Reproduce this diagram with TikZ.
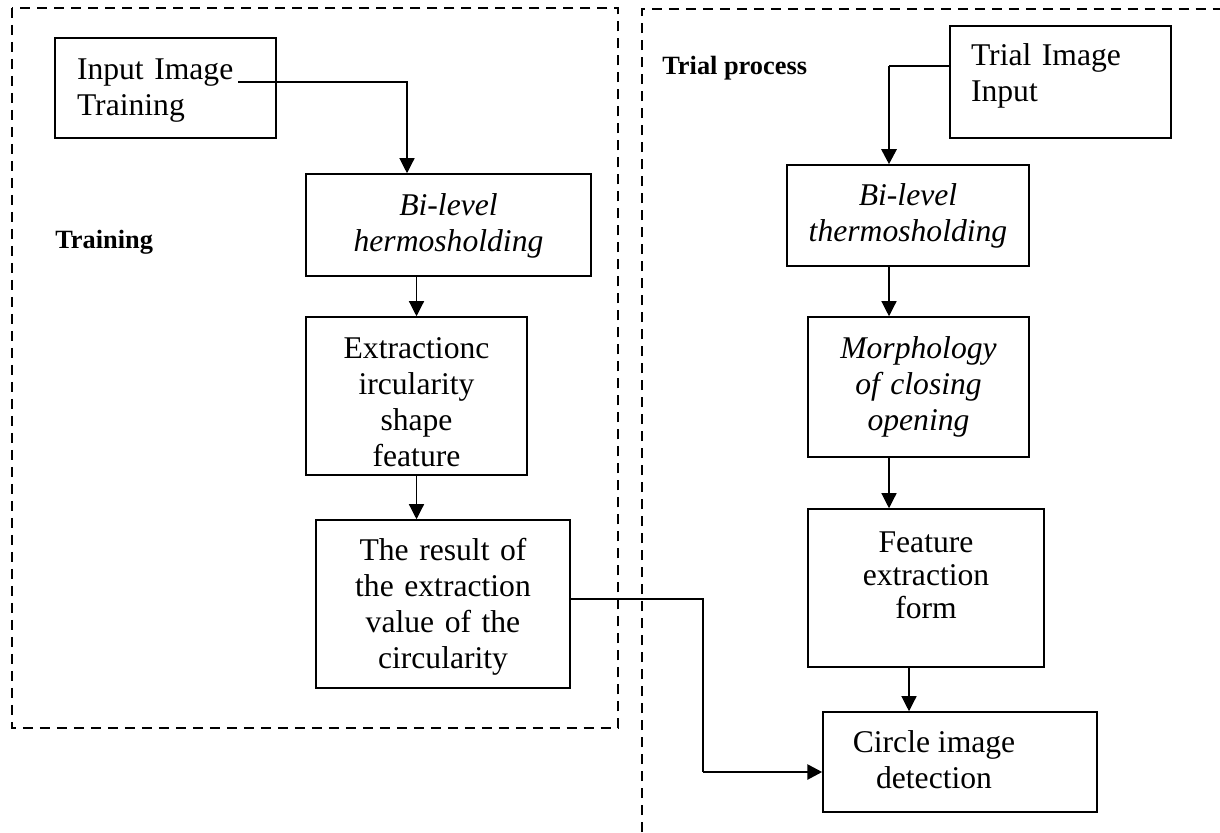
\documentclass[tikz,border=0pt]{standalone}
\usepackage{fontspec}
\setmainfont{Liberation Serif}
\usetikzlibrary{arrows.meta}

\begin{document}
\begin{tikzpicture}[x=0.02cm,y=-0.02cm,
		box/.style={draw,line width=0.9pt,inner sep=0pt,align=center,font=\fontsize{18}{20.6}\selectfont},
		ibox/.style={box,font=\fontsize{18}{20.6}\selectfont\itshape},
		grp/.style={line width=0.8pt,dash pattern=on 0.2cm off 0.14cm},
		lab/.style={anchor=base west,inner sep=0pt,font=\fontsize{15}{18}\selectfont\bfseries},
		conn/.style={line width=0.7pt},
		thk/.style={line width=1.6pt},
		>={Triangle[length=0.3cm,width=0.3cm]}]
		\useasboundingbox (0,0) rectangle (1220,832);
		%
		\draw[grp] (12,8) rectangle (618,728);
		\draw[grp] (642,832) |- (1220,9);
		\node[lab] (training) at (55,248) {Training};
		\node[lab] (trial) at (662,74) {Trial process};
		%
		\node[box,align=left,inner xsep=0.44cm,text width=3.54cm,text height=0.82cm,text depth=1.18cm] (intrain) at (165.5,88) {Input Image\\Training};
		\node[ibox,text width=5.70cm,text height=0.82cm,text depth=1.22cm] (bitrain) at (448.5,225) {Bi-level\\hermosholding};
		\node[box,text width=4.42cm,text height=0.82cm,text depth=2.34cm] (extrain) at (416.5,396) {Extractionc\\ircularity\\shape\\feature};
		\node[box,text width=5.08cm,text height=0.80cm,text depth=2.56cm] (restrain) at (443,604) {The result of\\the extraction\\value of the\\circularity};
		%
		\node[box,align=left,inner xsep=0.42cm,text width=3.58cm,text height=0.78cm,text depth=1.46cm] (intrial) at (1060.5,82) {Trial Image\\Input};
		\node[ibox,text width=4.84cm,text height=0.80cm,text depth=1.22cm] (bitrial) at (908,215.5) {Bi-level\\thermosholding};
		\node[ibox,text width=4.42cm,text height=0.82cm,text depth=1.98cm] (morph) at (918.5,387) {Morphology\\of closing\\opening};
		\node[box,font=\fontsize{18}{18.8}\selectfont,text width=4.72cm,text height=0.86cm,text depth=2.30cm] (featrial) at (926,588) {Feature\\extraction\\form};
		\node[box,minimum width=5.48cm,text height=0.80cm,text depth=1.20cm] (circle) at (960,762) {\begin{tabular}[t]{@{}c@{}}Circle image\\detection\end{tabular}\hspace{1.04cm}};
		%
		\coordinate (instart) at (238,82);
		\draw[conn,->] (instart) -| ([xshift=-0.83cm]bitrain.north);
		\path[conn,->] (bitrain.south -| extrain.north) edge (extrain.north)
		(extrain.south) edge (extrain.south |- restrain.north);
		\coordinate (rbend) at (703,772);
		\draw[conn] ([yshift=0.1cm]restrain.east) -| (rbend);
		\draw[thk,->] (rbend) -- (rbend -| circle.west);
		%
		\coordinate (tbend) at (889,66);
		\draw[conn] (intrial.west |- tbend) -- (tbend);
		\draw[thk,->] (tbend) -- (tbend |- bitrial.north);
		\path[conn,->] (tbend |- bitrial.south) edge (tbend |- morph.north)
		(tbend |- morph.south) edge (tbend |- featrial.north);
		\coordinate (fdrop) at ([xshift=-0.34cm]featrial.south);
		\draw[conn,->] (fdrop) -- (fdrop |- circle.north);
\end{tikzpicture}
\end{document}
